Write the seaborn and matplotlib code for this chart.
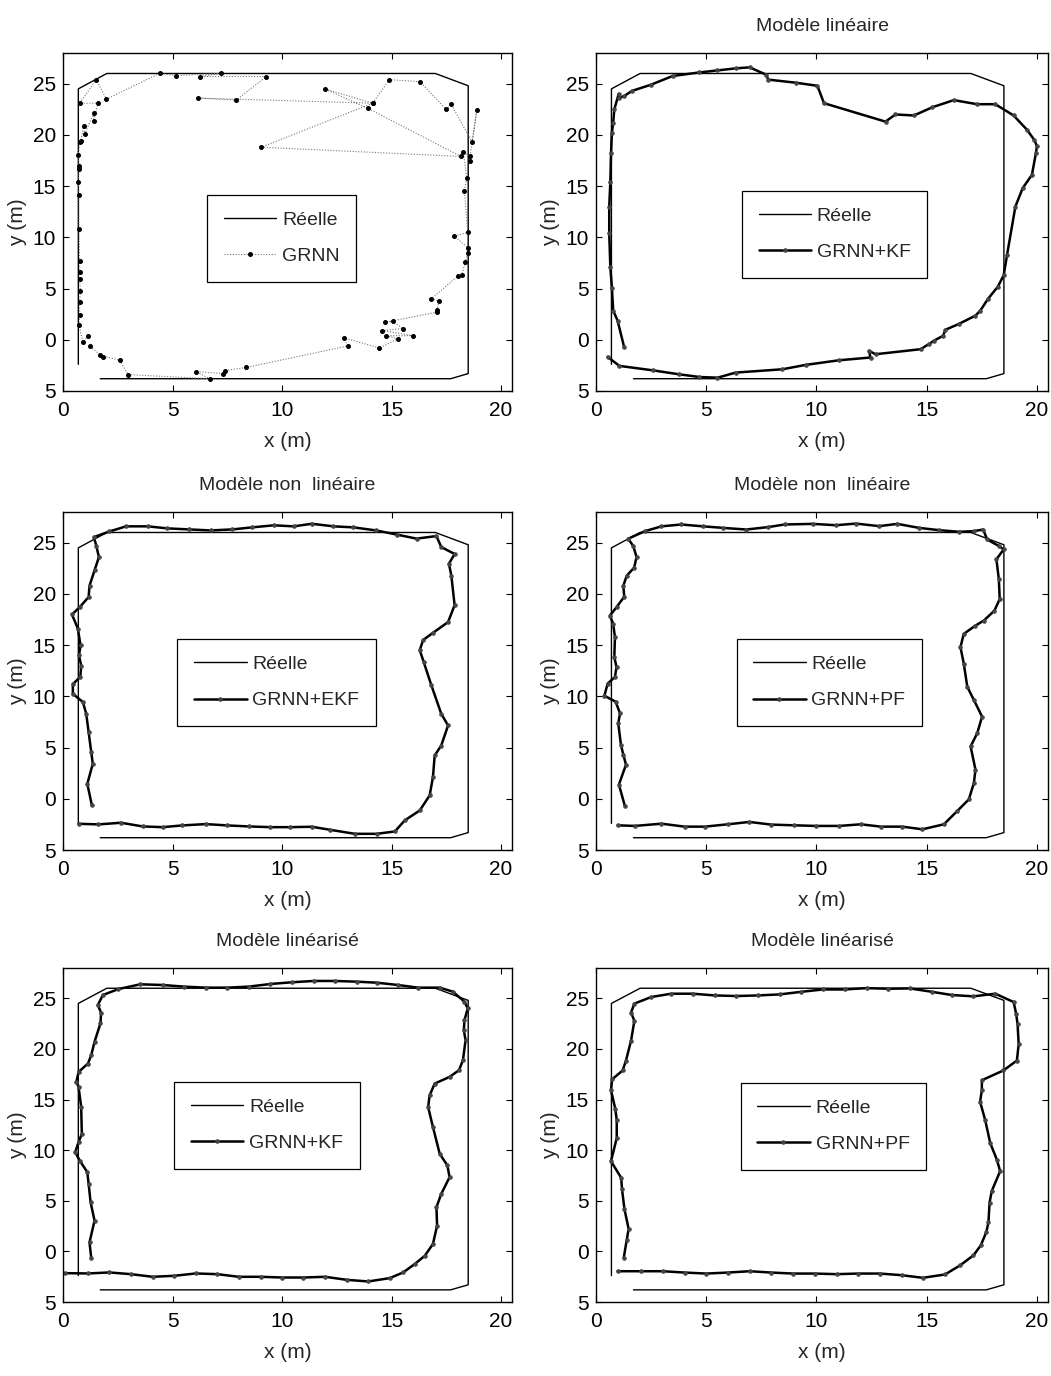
import matplotlib
matplotlib.use("Agg")
import matplotlib.pyplot as plt
import matplotlib.font_manager as fm
import pandas as pd
import seaborn as sns
from matplotlib.ticker import FixedLocator, FixedFormatter

# ---------------- data ----------------
real_x = [0.7, 0.7, 2.0, 17.0, 18.5, 18.5, 17.7, 1.7]
real_y = [-2.4, 24.5, 26.0, 26.0, 24.8, -3.3, -3.8, -3.8]

grnn_x = [1.14, 0.91, 0.73, 0.76, 0.76, 0.79, 0.76, 0.76, 0.76, 0.73, 0.73, 0.70, 0.73, 0.73, 0.70,
          0.76, 0.81, 0.94, 0.99, 1.40, 1.40, 1.60, 0.76, 1.52, 1.98, 4.41, 5.17, 7.22, 6.24, 9.28,
          7.91, 6.16, 14.14, 9.05, 18.17, 13.92, 11.94, 14.14, 14.90, 16.30, 17.49, 17.72, 18.68,
          18.89, 18.56, 18.59, 18.28, 18.43, 18.33, 18.48, 17.87, 18.48, 18.48, 18.37, 18.20, 18.02,
          16.81, 17.16, 17.08, 17.08, 14.68, 15.06, 15.51, 14.57, 15.97, 14.75, 15.29, 14.45, 12.81,
          13.00, 8.37, 7.38, 7.30, 6.08, 6.69, 2.97, 2.59, 1.67, 1.83, 1.22]
grnn_y = [0.4, -0.2, 1.4, 2.4, 3.7, 4.8, 5.9, 6.6, 7.7, 10.8, 14.1, 15.4, 16.7, 17.0, 18.0,
          19.3, 19.4, 20.9, 20.1, 22.1, 21.4, 23.1, 23.1, 25.4, 23.5, 26.0, 25.8, 26.0, 25.7, 25.7,
          23.4, 23.6, 23.1, 18.8, 17.9, 22.6, 24.5, 23.1, 25.4, 25.2, 22.5, 23.0, 19.3,
          22.4, 17.5, 17.95, 18.3, 15.8, 14.5, 10.5, 10.1, 9.0, 8.5, 7.6, 6.3, 6.2,
          4.0, 3.8, 2.9, 2.7, 1.7, 1.8, 1.1, 0.9, 0.4, 0.4, 0.1, -0.8, 0.2,
          -0.6, -2.7, -3.0, -3.3, -3.1, -3.8, -3.4, -2.0, -1.5, -1.7, -0.6]

kf_lin_x = [1.28, 0.98, 0.78, 0.72, 0.65, 0.60, 0.60, 0.65, 0.68, 0.72, 0.78, 0.83, 1.03, 1.06,
            1.28, 1.63, 2.49, 3.47, 4.68, 5.51, 6.34, 6.97, 7.70, 7.82, 9.06, 10.04, 10.34, 13.13,
            13.58, 14.42, 15.25, 16.23, 17.28, 18.11, 18.94, 19.55, 19.88, 20.00, 19.95, 19.77,
            19.35, 19.02, 18.64, 18.49, 18.23, 17.78, 17.43, 17.21, 16.45, 15.85, 15.74, 15.32,
            15.09, 14.72, 12.68, 12.38, 12.45, 11.02, 9.51, 8.45, 6.34, 5.51, 4.68, 3.77, 2.57,
            1.06, 0.53]
kf_lin_y = [-0.75, 1.87, 2.85, 5.10, 7.10, 10.40, 13.00, 15.40, 18.20, 20.20, 21.20, 22.50, 24.00,
            23.60, 23.80, 24.30, 24.90, 25.75, 26.10, 26.30, 26.50, 26.60, 25.90, 25.40, 25.10,
            24.80, 23.10, 21.30, 22.00, 21.90, 22.70, 23.40, 23.00, 23.00, 21.90, 20.50, 19.50,
            18.90, 18.20, 16.10, 14.80, 13.00, 8.25, 6.30, 5.20, 4.00, 2.85, 2.36, 1.54, 0.98,
            0.39, -0.10, -0.43, -0.92, -1.41, -1.08, -1.73, -2.00, -2.45, -2.88, -3.20, -3.70,
            -3.63, -3.37, -2.98, -2.55, -1.67]

ekf_x = [1.32, 1.11, 1.36, 1.29, 1.17, 1.06, 0.91, 0.45, 0.45, 0.79, 0.83, 0.73, 0.80, 0.68, 0.41,
         0.76, 1.17, 1.21, 1.44, 1.64, 1.52, 1.41, 2.12, 2.88, 3.86, 4.77, 5.76, 6.74, 7.73, 8.64,
         9.62, 10.53, 11.36, 12.35, 13.26, 14.30, 15.23, 16.14, 17.05, 17.27, 17.88, 17.62, 17.73,
         17.88, 17.58, 16.89, 16.44, 16.29, 16.47, 16.82, 17.27, 17.58, 17.27, 16.97, 16.89, 16.74,
         16.29, 15.61, 15.15, 14.32, 13.33, 12.20, 11.36, 10.38, 9.47, 8.48, 7.50, 6.52, 5.45,
         4.55, 3.64, 2.65, 1.62, 0.71]
ekf_y = [-0.65, 1.46, 3.42, 4.56, 6.50, 8.30, 9.44, 10.25, 11.20, 11.90, 13.00, 14.00, 14.97, 16.60,
         18.00, 18.70, 19.70, 20.80, 22.30, 23.60, 24.70, 25.55, 26.10, 26.60, 26.60, 26.40, 26.30,
         26.20, 26.30, 26.50, 26.70, 26.60, 26.85, 26.60, 26.50, 26.20, 25.80, 25.40, 25.65, 24.58,
         23.90, 22.95, 21.80, 18.90, 17.25, 16.20, 15.50, 14.50, 13.35, 11.07, 8.30, 7.16, 5.20,
         4.23, 2.10, 0.33, -1.14, -2.10, -3.19, -3.42, -3.42, -3.03, -2.73, -2.77, -2.77, -2.70,
         -2.60, -2.47, -2.60, -2.77, -2.70, -2.34, -2.50, -2.44]

pf_nl_x = [1.31, 1.04, 1.36, 1.24, 1.13, 1.01, 1.09, 0.89, 0.38, 0.53, 0.86, 0.93, 0.83, 0.86, 0.78,
           0.63, 0.93, 1.28, 1.24, 1.39, 1.73, 1.84, 1.69, 1.46, 2.22, 2.97, 3.87, 4.85, 5.76, 6.81,
           7.79, 8.55, 9.83, 10.88, 11.79, 12.84, 13.67, 14.65, 15.55, 16.46, 17.14, 17.56, 17.74,
           18.27, 18.49, 18.16, 18.27, 18.31, 18.07, 17.59, 17.21, 16.68, 16.53, 16.68, 16.84, 17.14,
           17.51, 17.29, 16.99, 17.21, 17.14, 16.91, 16.38, 15.78, 14.80, 13.90, 12.92, 12.01, 11.03,
           9.98, 9.00, 7.94, 6.96, 5.98, 4.93, 4.02, 2.97, 1.76, 0.98]
pf_nl_y = [-0.71, 1.39, 3.33, 4.30, 5.27, 7.37, 8.34, 9.48, 10.06, 11.25, 11.90, 12.87, 13.84, 15.78,
           17.08, 17.88, 18.70, 19.73, 20.80, 21.77, 22.57, 23.60, 24.68, 25.39, 26.13, 26.60, 26.78,
           26.60, 26.45, 26.29, 26.52, 26.78, 26.84, 26.71, 26.87, 26.62, 26.84, 26.45, 26.23, 26.07,
           26.13, 26.29, 25.32, 24.68, 24.35, 23.38, 21.44, 19.50, 18.37, 17.40, 16.91, 16.10, 14.81,
           13.20, 10.93, 9.64, 8.02, 6.40, 5.11, 2.85, 1.55, -0.06, -1.20, -2.49, -2.98, -2.72, -2.72,
           -2.49, -2.65, -2.65, -2.59, -2.52, -2.26, -2.49, -2.72, -2.72, -2.43, -2.65, -2.59]

kf_lz_x = [1.29, 1.21, 1.44, 1.26, 1.17, 1.11, 0.76, 0.56, 0.71, 0.86, 0.83, 0.71, 0.61, 0.71, 1.14,
           1.29, 1.44, 1.71, 1.74, 1.59, 1.82, 2.53, 3.53, 4.55, 5.53, 6.52, 7.50, 8.48, 9.47, 10.45,
           11.44, 12.42, 13.41, 14.32, 15.30, 16.21, 17.20, 17.80, 18.33, 18.48, 18.33, 18.30, 18.38,
           18.26, 18.08, 17.65, 16.97, 16.74, 16.67, 16.89, 17.20, 17.55, 17.65, 17.27, 17.05, 17.08,
           16.89, 16.52, 16.06, 15.53, 14.92, 13.94, 12.95, 11.97, 10.98, 10.00, 9.02, 8.03, 7.05,
           6.06, 5.08, 4.09, 3.11, 2.12, 1.14, 0.08]
kf_lz_y = [-0.66, 0.89, 3.04, 4.85, 6.67, 7.83, 8.98, 9.81, 10.80, 11.62, 14.27, 16.25, 16.74, 17.73,
           18.56, 19.39, 20.71, 22.52, 23.58, 24.34, 25.33, 25.92, 26.39, 26.32, 26.16, 26.06, 26.06,
           26.16, 26.42, 26.59, 26.72, 26.72, 26.65, 26.55, 26.32, 26.06, 26.06, 25.66, 24.67, 24.00,
           22.85, 21.86, 20.87, 18.89, 17.90, 17.24, 16.58, 15.42, 14.27, 12.29, 9.64, 8.49, 7.33,
           5.68, 4.36, 2.54, 0.73, -0.43, -1.25, -2.08, -2.64, -2.97, -2.81, -2.51, -2.58, -2.58,
           -2.51, -2.51, -2.25, -2.18, -2.41, -2.51, -2.25, -2.08, -2.18, -2.15]

pf_lz_x = [1.26, 1.39, 1.48, 1.29, 1.18, 1.14, 0.68, 0.94, 0.94, 0.88, 0.68, 0.73, 1.21, 1.36, 1.59,
           1.74, 1.59, 1.74, 2.50, 3.41, 4.39, 5.38, 6.36, 7.35, 8.33, 9.32, 10.30, 11.29, 12.27,
           13.26, 14.24, 15.23, 16.14, 17.12, 18.11, 18.94, 19.06, 19.12, 19.17, 19.09, 18.48, 17.50,
           17.50, 17.42, 17.65, 17.88, 18.18, 18.33, 17.95, 17.85, 17.80, 17.70, 17.45, 17.12, 16.52,
           15.83, 14.82, 13.86, 12.88, 11.89, 10.91, 9.92, 8.94, 7.95, 6.97, 5.98, 5.00, 4.02, 3.03,
           2.05, 0.98]
pf_lz_y = [-0.62, 1.08, 2.22, 4.18, 6.14, 7.28, 8.91, 11.19, 12.99, 14.03, 15.93, 17.00, 17.88,
           18.86, 20.82, 22.78, 23.60, 24.48, 25.13, 25.46, 25.46, 25.29, 25.23, 25.29, 25.39, 25.65,
           25.88, 25.88, 26.01, 25.95, 25.98, 25.65, 25.33, 25.20, 25.46, 24.64, 23.43, 22.45, 20.50,
           18.86, 17.88, 16.91, 15.93, 14.78, 12.99, 10.70, 9.07, 7.93, 5.97, 4.83, 2.87, 1.89, 0.59,
           -0.39, -1.37, -2.28, -2.61, -2.35, -2.19, -2.19, -2.25, -2.19, -2.19, -2.09, -1.96, -2.09,
           -2.19, -2.09, -1.96, -1.96, -1.96]

titles = ["", "Modèle linéaire", "Modèle non  linéaire", "Modèle non  linéaire",
          "Modèle linéarisé", "Modèle linéarisé"]
labels = ["GRNN", "GRNN+KF", "GRNN+EKF", "GRNN+PF", "GRNN+KF", "GRNN+PF"]
real_label = "Réelle"
xticks = [0, 5, 10, 15, 20]
xtick_labels = ["0", "5", "10", "15", "20"]
yticks = [-5, 0, 5, 10, 15, 20, 25]
ytick_labels = ["5", "0", "5", "10", "15", "20", "25"]

est_x = [grnn_x, kf_lin_x, ekf_x, pf_nl_x, kf_lz_x, pf_lz_x]
est_y = [grnn_y, kf_lin_y, ekf_y, pf_nl_y, kf_lz_y, pf_lz_y]

# ---------------- style ----------------
sns.set_style("ticks")
avail = {f.name for f in fm.fontManager.ttflist}
fam = [f for f in ["Liberation Sans Narrow", "Liberation Sans", "DejaVu Sans"] if f in avail]
plt.rcParams["font.family"] = fam
plt.rcParams["axes.unicode_minus"] = False

W, H = 1051, 1376
fig = plt.figure(figsize=(W / 100, H / 100), dpi=100)

cols = [(63, 449), (596, 452)]
rows = [(53, 338), (512, 338), (968, 334)]
legend_pos = [(0.321, 0.58), (0.323, 0.592), (0.255, 0.624), (0.311, 0.624), (0.248, 0.659), (0.32, 0.656)]

real_df = pd.DataFrame({"x": real_x, "y": real_y})

for i in range(6):
    r, c = divmod(i, 2)
    left, w = cols[c]
    top, h = rows[r]
    ax = fig.add_axes([left / W, 1 - (top + h) / H, w / W, h / H])
    est_df = pd.DataFrame({"x": est_x[i], "y": est_y[i]})
    sns.lineplot(data=real_df, x="x", y="y", sort=False, estimator=None, ax=ax,
                 color="black", lw=1.0, label=real_label, legend=False)
    if i == 0:
        sns.lineplot(data=est_df, x="x", y="y", sort=False, estimator=None, ax=ax,
                     color="#777777", lw=0.8, ls=(0, (1, 1.5)), marker="o", ms=2.8,
                     mfc="black", mec="black", label=labels[i], legend=False)
    else:
        sns.lineplot(data=est_df, x="x", y="y", sort=False, estimator=None, ax=ax,
                     color="black", lw=1.8, marker="o", ms=2.5, mfc="#444444", mec="#444444",
                     label=labels[i], legend=False)
    ax.set_xlim(0, 20.5)
    ax.set_ylim(-5, 28)
    ax.xaxis.set_major_locator(FixedLocator(xticks))
    ax.xaxis.set_major_formatter(FixedFormatter(xtick_labels))
    ax.yaxis.set_major_locator(FixedLocator(yticks))
    ax.yaxis.set_major_formatter(FixedFormatter(ytick_labels))
    ax.tick_params(direction="in", length=4, width=0.8, top=True, right=True,
                   labelsize=15, colors="black")
    ax.tick_params(axis="x", pad=7)
    ax.tick_params(axis="y", pad=5)
    for s in ax.spines.values():
        s.set_visible(True)
        s.set_linewidth(1.0)
        s.set_color("black")
    ax.set_xlabel("x (m)", fontsize=15, labelpad=9)
    ax.set_ylabel("y (m)", fontsize=15, labelpad=4)
    if titles[i]:
        ax.set_title(titles[i], fontsize=14, pad=16)
    handles = ax.get_lines()[:2]
    leg = ax.legend(handles=handles, labels=[real_label, labels[i]], loc="upper left",
                    bbox_to_anchor=legend_pos[i], fontsize=14, frameon=True, fancybox=False,
                    edgecolor="black", framealpha=1, handlelength=2.7, numpoints=1,
                    labelspacing=0.95, borderpad=0.85, handletextpad=0.3, borderaxespad=0)
    leg.get_frame().set_linewidth(0.9)

fig.savefig("out.png", dpi=100)
